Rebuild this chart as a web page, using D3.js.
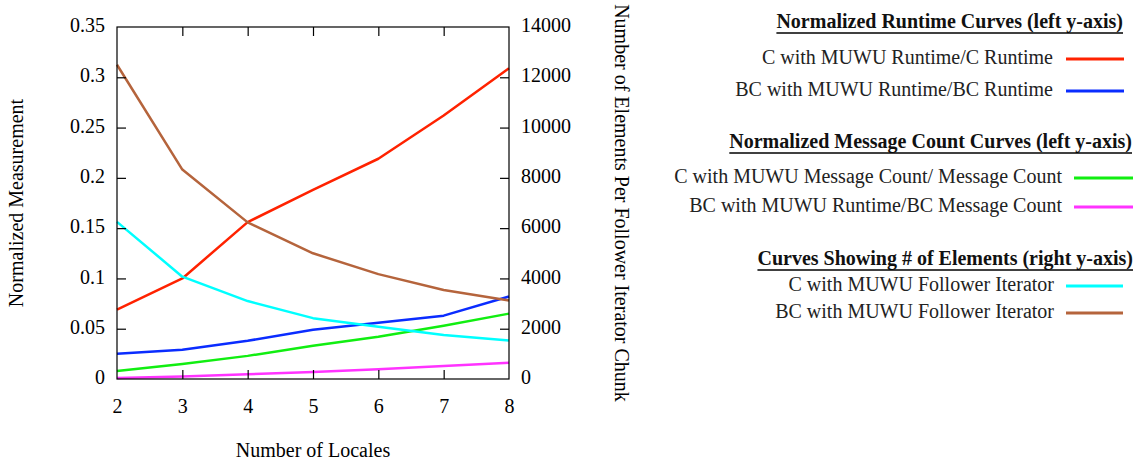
<!DOCTYPE html>
<html><head><meta charset="utf-8">
<script src="https://cdn.jsdelivr.net/npm/d3@7"></script>
<style>
body{margin:0;background:#fff;}
text{font-family:"Liberation Serif","Times New Roman",serif;}
</style></head>
<body><svg id="c" width="1136" height="461"></svg>
<script>
const locales = [2,3,4,5,6,7,8];
const leftTicks = [0,0.05,0.1,0.15,0.2,0.25,0.3,0.35];
const rightTicks = [0,2000,4000,6000,8000,10000,12000,14000];
const cRuntime   = [0.069,0.100,0.156,0.188,0.219,0.262,0.309];
const bcRuntime  = [0.025,0.029,0.038,0.049,0.056,0.063,0.082];
const cMsg       = [0.008,0.015,0.023,0.033,0.042,0.053,0.065];
const bcMsg      = [0.001,0.0025,0.0048,0.007,0.0096,0.013,0.0162];
const cElems     = [6250,4070,3100,2420,2080,1750,1530];
const bcElems    = [12500,8330,6230,5000,4170,3540,3120];

const series = [
  {name:"C with MUWU Runtime/C Runtime", vals:cRuntime, axis:"L", color:"#ff2200"},
  {name:"BC with MUWU Runtime/BC Runtime", vals:bcRuntime, axis:"L", color:"#0a2cff"},
  {name:"C with MUWU Message Count/ Message Count", vals:cMsg, axis:"L", color:"#11ee11"},
  {name:"BC with MUWU Runtime/BC Message Count", vals:bcMsg, axis:"L", color:"#ff33ff"},
  {name:"C with MUWU Follower Iterator", vals:cElems, axis:"R", color:"#00ffff"},
  {name:"BC with MUWU Follower Iterator", vals:bcElems, axis:"R", color:"#b5643c"}
];

const svg = d3.select("#c");
const L=117, R=509, T=27, B=379;
const x = d3.scaleLinear().domain([2,8]).range([L,R]);
const yL = d3.scaleLinear().domain([0,0.35]).range([B,T]);
const yR = d3.scaleLinear().domain([0,14000]).range([B,T]);
const tk = 9;
const fs = 20;

// lines
const plot = svg.append("g");
series.forEach(s=>{
  const ys = s.axis==="L"?yL:yR;
  plot.append("path")
    .attr("d", d3.line().x((d,i)=>x(locales[i])).y(d=>ys(d))(s.vals))
    .attr("fill","none").attr("stroke",s.color).attr("stroke-width",2.5)
    .attr("stroke-linejoin","round");
});

// axes
const axBottom = d3.axisBottom(x).tickValues(locales).tickSize(-tk).tickFormat(d3.format("d"));
const gB = svg.append("g").attr("transform",`translate(0,${B})`).call(axBottom);
const axTop = d3.axisTop(x).tickValues(locales).tickSize(-tk).tickFormat("");
const gT = svg.append("g").attr("transform",`translate(0,${T})`).call(axTop);
const axLeft = d3.axisLeft(yL).tickValues(leftTicks).tickSize(-tk).tickFormat(d=>String(d));
const gL = svg.append("g").attr("transform",`translate(${L},0)`).call(axLeft);
const axRight = d3.axisRight(yR).tickValues(rightTicks).tickSize(-tk).tickFormat(d3.format("d"));
const gR = svg.append("g").attr("transform",`translate(${R},0)`).call(axRight);
[gB,gT,gL,gR].forEach(g=>{
  g.attr("font-size",fs).attr("font-family","'Liberation Serif',serif");
  g.select(".domain").remove();
  g.selectAll(".tick line").attr("stroke","#000").attr("stroke-width",1.2);
  g.selectAll("text").attr("font-size",fs).attr("fill","#000");
});
gB.selectAll("text").attr("dy",null).attr("y",29).attr("dominant-baseline","middle");
gL.selectAll("text").attr("x",-12).attr("dy",null).attr("dominant-baseline","middle");
gR.selectAll("text").attr("x",12).attr("dy",null).attr("dominant-baseline","middle");
gB.selectAll(".tick").filter(d=>d===2||d===8).select("line").remove();
gT.selectAll(".tick").filter(d=>d===2||d===8).select("line").remove();
gL.selectAll(".tick").filter(d=>d===0||d===0.35).select("line").remove();
gR.selectAll(".tick").filter(d=>d===0||d===14000).select("line").remove();
svg.append("rect").attr("x",L).attr("y",T).attr("width",R-L).attr("height",B-T)
  .attr("fill","none").attr("stroke","#000").attr("stroke-width",1.2);

// axis titles
svg.append("text").attr("x",313).attr("y",452).attr("text-anchor","middle")
  .attr("dominant-baseline","middle").attr("font-size",fs).text("Number of Locales");
svg.append("text").attr("transform","translate(18,203) rotate(-90)").attr("text-anchor","middle")
  .attr("dominant-baseline","middle").attr("font-size",fs).text("Normalized Measurement");
svg.append("text").attr("transform","translate(620,203) rotate(90)").attr("text-anchor","middle")
  .attr("dominant-baseline","middle").attr("font-size",fs).text("Number of Elements Per Follower Iterator Chunk");

// legend
const groups = [
  {title:"Normalized Runtime Curves (left y-axis)", titleEnd:1123, ty:23,
   items:[{s:0,y:59,textEnd:1053,x1:1066,x2:1124},{s:1,y:91,textEnd:1053,x1:1066,x2:1124}]},
  {title:"Normalized Message Count Curves (left y-axis)", titleEnd:1132, ty:143,
   items:[{s:2,y:178,textEnd:1062,x1:1074,x2:1133},{s:3,y:207,textEnd:1062,x1:1074,x2:1133}]},
  {title:"Curves Showing # of Elements (right y-axis)", titleEnd:1133, ty:260,
   items:[{s:4,y:286,textEnd:1054,x1:1066,x2:1123},{s:5,y:313,textEnd:1054,x1:1066,x2:1123}]}
];
const lg = svg.append("g");
groups.forEach(g=>{
  const t = lg.append("text").attr("x",g.titleEnd).attr("y",g.ty).attr("text-anchor","end")
    .attr("dominant-baseline","middle").attr("font-size",fs).attr("font-weight","bold")
    .attr("fill","#111").text(g.title);
  const bb = t.node().getBBox();
  lg.append("line").attr("x1",bb.x).attr("x2",bb.x+bb.width).attr("y1",g.ty+10).attr("y2",g.ty+10)
    .attr("stroke","#000").attr("stroke-width",1.5);
  g.items.forEach(it=>{
    const s = series[it.s];
    lg.append("text").attr("x",it.textEnd).attr("y",it.y).attr("text-anchor","end")
      .attr("dominant-baseline","middle").attr("font-size",fs).attr("fill","#222").text(s.name);
    lg.append("line").attr("x1",it.x1).attr("x2",it.x2).attr("y1",it.y).attr("y2",it.y)
      .attr("stroke",s.color).attr("stroke-width",3);
  });
});
</script></body></html>
